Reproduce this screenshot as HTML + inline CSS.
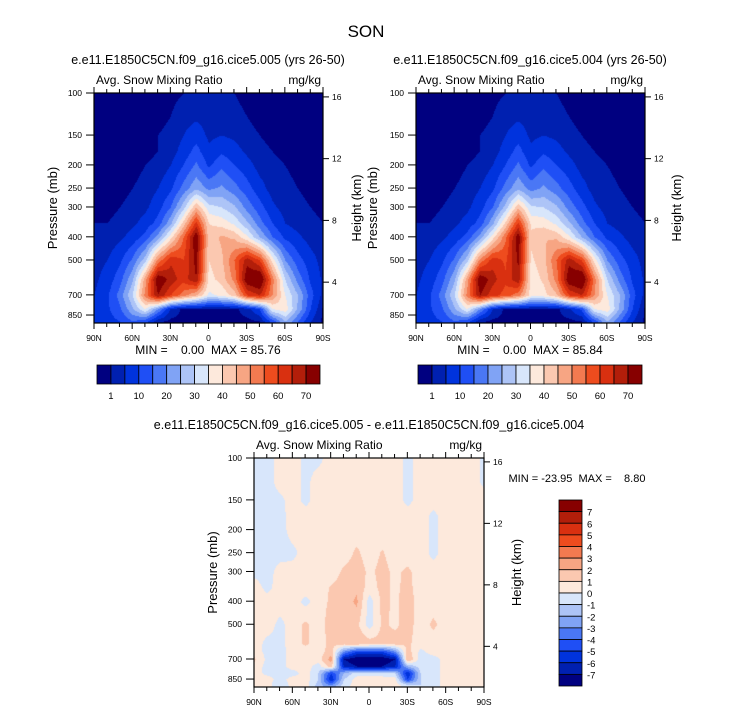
<!DOCTYPE html>
<html><head><meta charset="utf-8">
<style>
body{margin:0;background:#fff;}
#root{position:relative;width:733px;height:712px;overflow:hidden;background:#fff;font-family:"Liberation Sans",sans-serif;}
canvas{position:absolute;}
svg{position:absolute;left:0;top:0;}
</style></head>
<body>
<div id="root">
<canvas id="c1" style="left:94px;top:93px" width="229" height="230"></canvas>
<canvas id="c2" style="left:416px;top:93px" width="229" height="230"></canvas>
<canvas id="c3" style="left:254px;top:458px" width="230" height="229"></canvas>
<svg id="ov" width="733" height="712"></svg>
</div>
<script>
const palette=["#000080","#0020b0","#0033dd","#1f4ff5","#4a77f5","#80a3f5","#adc4f7","#d8e6fb","#fde9dc","#fbc8b0","#f7a583","#f37a50","#ee4c1e","#d93010","#b21e0a","#870000"];
const levelsTop=[1,5,10,15,20,25,30,35,40,45,50,55,60,65,70];
const levelsDiff=[-7,-6,-5,-4,-3,-2,-1,0,1,2,3,4,5,6,7];
const lats=[90,80,70,60,50,40,30,20,10,0,-10,-20,-30,-40,-50,-60,-70,-80,-90];
const pres=[100,125,150,175,200,250,300,350,400,500,600,700,800,900];
const presDiff=[100,125,150,175,200,250,300,350,400,500,600,650,700,750,800,850,900];
const latTickLabels=["90N","60N","30N","0","30S","60S","90S"];
const presTickLabels=[100,150,200,250,300,400,500,700,850];
const hgtTickLabels=[4,8,12,16];
const cbTopLabels=["1","10","20","30","40","50","60","70"];
const cbDiffLabels=["7","6","5","4","3","2","1","0","-1","-2","-3","-4","-5","-6","-7"];
const field005=[
[0,0,0,0,0,0,0,1,2,2,1,1,0,0,0,0,0,0,0],
[0,0,0,0,0,0,1,3,4,3,3,2,1,0,0,0,0,0,0],
[0,0,0,0,0,1,2,5,8,4,5,4,2,1,0,0,0,0,0],
[0,0,0,0,0,1,3,7,12,6,9,7,4,2,1,0,0,0,0],
[0,0,0,0,1,2,5,10,16,9,14,10,7,3,2,1,0,0,0],
[0,0,0,1,2,5,9,17,24,19,21,17,12,7,3,2,1,0,0],
[0,0,1,2,4,8,15,28,45,32,30,26,18,12,6,3,2,1,0],
[1,1,2,4,7,12,24,42,62,40,38,34,26,17,10,5,3,2,1],
[2,2,4,7,12,22,38,55,75,42,46,44,36,25,15,9,6,3,2],
[3,5,9,16,28,52,64,60,72,40,44,55,68,60,38,20,12,7,3],
[4,7,13,24,48,75,68,62,70,38,42,52,75,78,52,30,18,9,4],
[5,9,17,30,52,70,60,52,45,34,36,42,60,65,50,35,25,12,3],
[5,9,14,24,35,20,4,0,0,0,0,0,3,10,35,38,24,10,0],
[5,8,10,15,12,2,0,0,0,0,0,0,0,1,12,25,15,5,0]];
const field004=[
[0,0,0,0,0,0,0,1,2,2,1,1,0,0,0,0,0,0,0],
[0,0,0,0,0,0,1,3,4,3,3,2,1,0,0,0,0,0,0],
[0,0,0,0,0,1,2,5,8,4,5,4,2,1,0,0,0,0,0],
[0,0,0,0,0,1,3,7,12,6,9,7,4,2,1,0,0,0,0],
[0,0,0,0,1,2,5,10,16,9,14,10,7,3,2,1,0,0,0],
[0,0,0,1,2,5,9,17,24,18,21,17,12,7,3,2,1,0,0],
[0,0,1,2,4,8,15,27,44,31,30,26,18,12,6,3,2,1,0],
[1,1,2,4,7,12,24,41,61,39,38,34,26,17,10,5,3,2,1],
[2,2,4,7,12,22,38,54,74,41,45,44,36,25,15,9,6,3,2],
[3,5,9,16,28,52,63,59,71,39,43,55,68,60,38,20,12,7,3],
[4,7,13,24,48,75,67,61,69,37,41,52,75,78,52,30,18,9,4],
[5,9,17,30,52,70,62,58,52,38,38,44,60,65,50,35,25,12,3],
[5,9,14,24,35,20,5,0,0,0,0,0,4,11,35,38,24,10,0],
[5,8,10,15,12,2,0,0,0,0,0,0,0,1,12,25,15,5,0]];
const fieldDiff=[
[-.5,-.5,.5,.5,-.3,-.3,.5,.5,.5,.5,.5,.5,-.3,.5,.5,.5,.5,.5,-.3],
[-.5,-.5,.5,.5,-.3,.5,.5,.5,.5,.5,.5,.5,-.3,.5,.5,.5,.5,.5,-.3],
[-.5,-.5,-.3,.5,-.3,.5,.5,.5,.5,.5,.5,.5,-.3,.5,.5,.5,.5,.5,.5],
[-.5,-.5,-.4,.5,.5,.5,.5,.5,.5,.5,.5,.5,.5,.5,-.3,.5,.5,.5,.5],
[-.5,-.5,-.5,.5,.5,.5,.5,.5,.5,.5,.5,.5,.5,.5,-.3,.5,.5,.5,.5],
[-.5,-.5,-.5,-.3,.5,.5,.5,.5,1.2,.5,1.1,.5,.5,.5,-.3,.5,.5,.5,.5],
[-.3,-.5,.5,.5,.5,.5,.5,1.2,1.5,.8,1.3,.8,1.2,.5,.5,.5,.5,.5,.5],
[.5,-.3,.5,.5,.5,.5,1.1,1.4,1.8,.5,1.3,.8,1.3,.5,.5,.5,.5,.5,.5],
[.5,.5,.5,.5,-.3,.5,1.2,1.5,2.2,-.5,1.3,.8,1.5,.5,.5,.5,.5,.5,.5],
[.5,.5,-.3,.5,1.2,.5,1.5,1.2,1.3,-.5,1.2,.8,1.4,.5,1.2,.5,.5,.5,.5],
[.5,-.3,-.3,.5,1.2,.5,1.3,1.5,1.8,1.5,1.3,1.5,1.2,.5,.5,.5,.5,.5,.5],
[.5,-.3,-.5,.5,.5,.5,1.5,-3,-5,-5,-5,-3,1.5,-.3,.5,.5,.5,.5,.5],
[1.2,-.3,-.5,.5,.5,.5,2.5,-7,-8,-8,-8,-7,2,-.5,-.5,.5,.5,.5,.5],
[.5,-.3,-.5,.5,.5,-.5,1.5,-6,-7,-7,-7,-6,-2,-.5,-.5,.5,.5,.5,.5],
[.5,-.3,-.3,-.5,.5,-1,-5,-2,-.5,-.5,-.5,-1,-6,-1,-.5,.5,.5,.5,.5],
[.5,.5,-.5,.5,.5,-1,-6,-1,.5,.5,.5,.5,-5,-1,-.5,.5,.5,.5,.5],
[.5,.5,-1,.5,.5,-1.5,-3,-.5,.5,.5,.5,.5,-.5,-1,-.5,.5,.5,.5,.5]];

const PTOP=100,PBOT=918;
function yOfP(p,h){return Math.log(p/PTOP)/Math.log(PBOT/PTOP)*h;}
function xOfLat(l,w){return (90-l)/180*w;}
function hgtToP(z){return 1123*Math.exp(-z/6.72);}
function hex(c){return [parseInt(c.substr(1,2),16),parseInt(c.substr(3,2),16),parseInt(c.substr(5,2),16)];}
const pal=palette.map(hex);
function colorIdx(v,lev){let i=0;while(i<lev.length&&v>=lev[i])i++;return i;}
function sample(f,P,lat,p){
  let fx=(90-lat)/10;fx=Math.max(0,Math.min(lats.length-1,fx));
  const lp=Math.log(p);let r=0;
  while(r<P.length-2&&Math.log(P[r+1])<lp)r++;
  let t=(lp-Math.log(P[r]))/(Math.log(P[r+1])-Math.log(P[r]));t=Math.max(0,Math.min(1,t));
  const c=Math.min(Math.floor(fx),lats.length-2),s=fx-c;
  const a=f[r][c]*(1-s)+f[r][c+1]*s,b=f[r+1][c]*(1-s)+f[r+1][c+1]*s;
  return a*(1-t)+b*t;
}
function drawField(id,f,P,lev){
  const cv=document.getElementById(id),ctx=cv.getContext('2d'),w=cv.width,h=cv.height;
  const img=ctx.createImageData(w,h);
  for(let y=0;y<h;y++){const p=PTOP*Math.exp(y/h*Math.log(PBOT/PTOP));
    for(let x=0;x<w;x++){const lat=90-x/w*180;const v=sample(f,P,lat,p);const c=pal[colorIdx(v,lev)];
      const k=(y*w+x)*4;img.data[k]=c[0];img.data[k+1]=c[1];img.data[k+2]=c[2];img.data[k+3]=255;}}
  ctx.putImageData(img,0,0);
}
drawField('c1',field005,pres,levelsTop);
drawField('c2',field004,pres,levelsTop);
drawField('c3',fieldDiff,presDiff,levelsDiff);

const svg=document.getElementById('ov');const NS='http://www.w3.org/2000/svg';
function el(tag,attrs,parent,txt){const e=document.createElementNS(NS,tag);for(const k in attrs)e.setAttribute(k,attrs[k]);if(txt!==undefined)e.textContent=txt;(parent||svg).appendChild(e);return e;}
function text(x,y,s,size,anchor,name){const t=el('text',{x:x,y:y,'font-size':size,'text-anchor':anchor||'middle',fill:'#000','font-family':'Liberation Sans, sans-serif'},svg,s);
  
  return t;}
function axes(X,Y,W,H,pfx,plab,hlab){
  const g=el('g',{});
  
  
  el('rect',{x:X,y:Y,width:W,height:H,fill:'none',stroke:'#000','stroke-width':1.2},g);
  for(let l=90;l>=-90;l-=10){const x=X+xOfLat(l,W);const major=l%30===0;
    el('line',{x1:x,y1:Y+H,x2:x,y2:Y+H+(major?6:4),stroke:'#000','stroke-width':1},g);
    el('line',{x1:x,y1:Y,x2:x,y2:Y-(major?6:4),stroke:'#000','stroke-width':1},g);}
  latTickLabels.forEach((s,i)=>{text(X+i*W/6,Y+H+18,s,8.5,'middle',pfx+'-lat-label');});
  presTickLabels.forEach(p=>{const y=Y+yOfP(p,H);el('line',{x1:X-8,y1:y,x2:X,y2:y,stroke:'#000','stroke-width':1},g);
    text(X-12,y+3,String(p),8.5,'end',pfx+'-pressure-label');});
  hgtTickLabels.forEach(z=>{const y=Y+yOfP(hgtToP(z),H);el('line',{x1:X+W,y1:y,x2:X+W+6,y2:y,stroke:'#000','stroke-width':1},g);
    text(X+W+9,y+3,String(z),8.5,'start',pfx+'-height-label');});
  const pl=text(plab,Y+H/2,'Pressure (mb)',13,'middle',pfx+'-y-axis-title');pl.setAttribute('transform','rotate(-90 '+plab+' '+(Y+H/2)+')');
  const hl=text(hlab,Y+H/2,'Height (km)',13,'middle',pfx+'-y2-axis-title');hl.setAttribute('transform','rotate(-90 '+hlab+' '+(Y+H/2)+')');
  text(X+2,Y-9,'Avg. Snow Mixing Ratio',12,'start',pfx+'-subtitle');
  text(X+W-2,Y-9,'mg/kg',12,'end',pfx+'-units');
}
function hbar(X,Y,W,H,pfx){
  const bw=W/16;
  palette.forEach((c,i)=>{const r=el('rect',{x:X+i*bw,y:Y,width:bw,height:H,fill:c,stroke:'#000','stroke-width':0.8});
    
    });
  cbTopLabels.forEach((s,i)=>{text(X+(1+2*i)*bw,Y+H+15,s,9.5,'middle',pfx+'-colorbar-label');});
}
const NB='\u00a0';
text(366,37,'SON',17,'middle','main-title');
text(208,64,'e.e11.E1850C5CN.f09_g16.cice5.005 (yrs 26-50)',12.5,'middle','left-title');
text(530,64,'e.e11.E1850C5CN.f09_g16.cice5.004 (yrs 26-50)',12.5,'middle','right-title');
axes(94,93,229,230,'left',57,361);
axes(416,93,229,230,'right',377,681);
text(208,354,'MIN ='+NB+NB+NB+' 0.00'+NB+NB+'MAX = 85.76',12,'middle','left-minmax');
text(530,354,'MIN ='+NB+NB+NB+' 0.00'+NB+NB+'MAX = 85.84',12,'middle','right-minmax');
hbar(97,365,223,19,'left');
hbar(418,365,224,19,'right');
text(369,429,'e.e11.E1850C5CN.f09_g16.cice5.005 - e.e11.E1850C5CN.f09_g16.cice5.004',12.5,'middle','diff-title');
axes(254,458,230,229,'diff',217,521);
text(577,482,'MIN = -23.95'+NB+NB+'MAX ='+NB+NB+NB+' 8.80',11,'middle','diff-minmax');
(function(){const X=559,Y=500,W=23,H=186,bh=H/16;
  for(let i=0;i<16;i++){const r=el('rect',{x:X,y:Y+i*bh,width:W,height:bh,fill:palette[15-i],stroke:'#000','stroke-width':0.8});
    
    }
  cbDiffLabels.forEach((s,i)=>{text(X+W+5,Y+(i+1)*bh+4,s,9.5,'start','diff-colorbar-label');});
})();
</script>
</body></html>
